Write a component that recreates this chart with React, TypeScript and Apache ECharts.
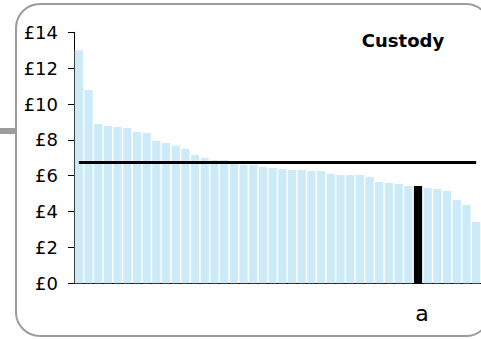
import React, { useEffect, useRef } from "react";
import * as echarts from "echarts";

const categories: string[] = [
  "", "", "", "", "", "", "", "", "", "",
  "", "", "", "", "", "", "", "", "", "",
  "", "", "", "", "", "", "", "", "", "",
  "", "", "", "", "", "a", "", "", "", "",
  "", "",
];

const custodyValues: number[] = [
  13.0, 10.78, 8.88, 8.77, 8.72, 8.66, 8.44, 8.38, 7.94, 7.83,
  7.67, 7.5, 7.17, 6.99, 6.88, 6.88, 6.75, 6.61, 6.61, 6.5,
  6.43, 6.37, 6.32, 6.32, 6.26, 6.26, 6.1, 6.04, 6.04, 6.04,
  5.93, 5.65, 5.59, 5.54, 5.43, 5.43, 5.32, 5.26, 5.15, 4.65,
  4.37, 3.42,
];

const averageValue = 6.77;
const highlightLabel = "a";
const chartTitle = "Custody";
const yMin = 0;
const yMax = 14;
const yInterval = 2;

const FONT = "'DejaVu Sans', 'Liberation Sans', Arial, sans-serif";

export default function App() {
  const ref = useRef<HTMLDivElement>(null);

  useEffect(() => {
    if (!ref.current) return;
    const chart = echarts.init(ref.current, null, { renderer: "svg" });
    const hi = categories.indexOf(highlightLabel);
    chart.setOption({
      animation: false,
      textStyle: { fontFamily: FONT },
      grid: { left: 74, right: 0, top: 32.3, bottom: 55.7, containLabel: false },
      xAxis: {
        type: "category",
        data: categories,
        axisLine: { show: true, lineStyle: { color: "#000", width: 1 } },
        axisTick: { show: false },
        axisLabel: {
          interval: 0,
          fontSize: 22,
          color: "#000",
          fontFamily: FONT,
          margin: 19,
          padding: [0, 0, 0, 8],
        },
      },
      yAxis: {
        type: "value",
        min: yMin,
        max: yMax,
        interval: yInterval,
        axisLine: { show: true, lineStyle: { color: "#000", width: 1 } },
        axisTick: { show: true, length: 6, lineStyle: { color: "#000", width: 1 } },
        splitLine: { show: false },
        axisLabel: {
          formatter: (v: number) => "£" + v,
          fontSize: 18,
          color: "#000",
          fontFamily: FONT,
          margin: 16,
        },
      },
      series: [
        {
          type: "bar",
          data: custodyValues.map((v, i) =>
            i === hi ? { value: v, itemStyle: { color: "#000000" } } : v
          ),
          itemStyle: { color: "#CCEBF7" },
          barCategoryGap: "15%",
          silent: true,
          markLine: {
            silent: true,
            symbol: "none",
            label: { show: false },
            lineStyle: { color: "#000", width: 3, type: "solid" },
            data: [
              [
                { coord: [0, averageValue] },
                { coord: [categories.length - 1, averageValue] },
              ],
            ],
          },
        },
      ],
      graphic: [
        {
          type: "rect",
          shape: { x: 16, y: 4, width: 474, height: 332, r: 24 },
          style: { fill: "none", stroke: "#9c9c9c", lineWidth: 2 },
          silent: true,
        },
        {
          type: "rect",
          shape: { x: 0, y: 128, width: 16, height: 6 },
          style: { fill: "#9c9c9c" },
          silent: true,
        },
        {
          type: "text",
          x: 403,
          y: 40,
          style: {
            text: chartTitle,
            fontFamily: FONT,
            fontWeight: "bold",
            fontSize: 18,
            fill: "#000",
            align: "center",
            verticalAlign: "middle",
          },
          silent: true,
        },
      ],
    });
    return () => chart.dispose();
  }, []);

  return (
    <div
      ref={ref}
      style={{ position: "absolute", left: 0, top: 0, width: 481, height: 339 }}
    />
  );
}
